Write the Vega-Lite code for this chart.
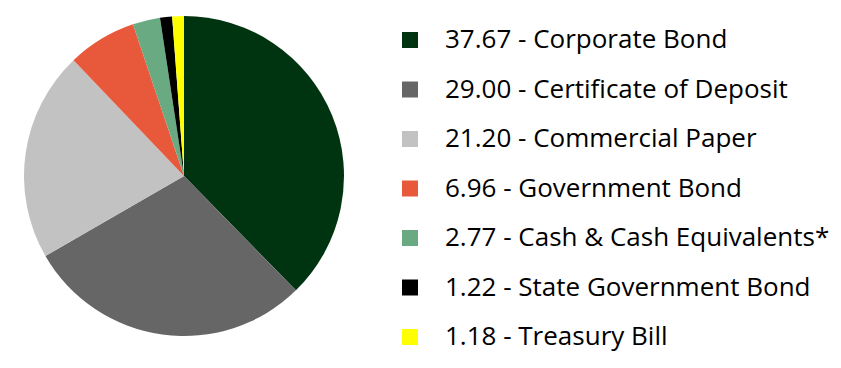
{
  "$schema": "https://vega.github.io/schema/vega-lite/v6.json",
  "width": 841,
  "height": 368,
  "autosize": {"type": "none"},
  "padding": 0,
  "background": "white",
  "config": {"view": {"stroke": null}},
  "data": {
    "values": [
      {"name": "37.67 - Corporate Bond", "value": 37.67, "order": 1},
      {"name": "29.00 - Certificate of Deposit", "value": 29.00, "order": 2},
      {"name": "21.20 - Commercial Paper", "value": 21.20, "order": 3},
      {"name": "6.96 - Government Bond", "value": 6.96, "order": 4},
      {"name": "2.77 - Cash & Cash Equivalents*", "value": 2.77, "order": 5},
      {"name": "1.22 - State Government Bond", "value": 1.22, "order": 6},
      {"name": "1.18 - Treasury Bill", "value": 1.18, "order": 7}
    ]
  },
  "mark": {"type": "arc", "x": 184, "y": 176, "outerRadius": 160},
  "encoding": {
    "theta": {"field": "value", "type": "quantitative", "stack": true},
    "order": {"field": "order", "type": "quantitative"},
    "color": {
      "field": "name",
      "type": "nominal",
      "scale": {
        "domain": ["37.67 - Corporate Bond", "29.00 - Certificate of Deposit", "21.20 - Commercial Paper", "6.96 - Government Bond", "2.77 - Cash & Cash Equivalents*", "1.22 - State Government Bond", "1.18 - Treasury Bill"],
        "range": ["#00330f", "#666666", "#c2c2c2", "#e8583b", "#6aaa82", "#000000", "#ffff00"]
      },
      "legend": {
        "title": null,
        "orient": "none",
        "legendX": 397,
        "legendY": 27,
        "padding": 0,
        "symbolType": "square",
        "symbolSize": 256,
        "symbolStrokeWidth": 0,
        "symbolOpacity": 1,
        "labelFont": "Open Sans",
        "labelFontSize": 26,
        "labelColor": "#000000",
        "labelOffset": 22,
        "labelLimit": 500,
        "rowPadding": 23.5
      }
    }
  }
}
